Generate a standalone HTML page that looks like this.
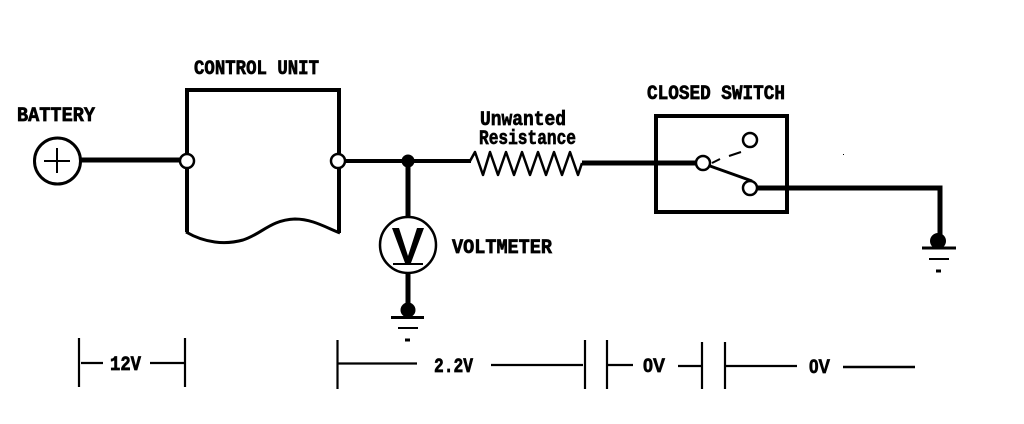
<!DOCTYPE html>
<html>
<head>
<meta charset="utf-8">
<style>
html,body{margin:0;padding:0;background:#fff;width:1024px;height:424px;overflow:hidden}
svg{display:block}
text{font-family:"Liberation Mono",monospace;font-weight:bold;fill:#000;stroke:#000;stroke-width:.7}
text.s{font-family:"Liberation Sans",sans-serif}
</style>
</head>
<body>
<svg width="1024" height="424" viewBox="0 0 1024 424" xmlns="http://www.w3.org/2000/svg">
<g fill="none" stroke="#000" stroke-width="4" stroke-linecap="butt">
  <!-- battery -->
  <circle cx="57.500" cy="161" r="23" stroke-width="3" fill="#fff"/>
  <path d="M44 161H70M57 148V173" stroke-width="2"/>
  <path d="M80 160H181" stroke-width="5"/>
  <!-- control unit -->
  <path d="M187 232V90H339V233" stroke-width="4"/>
  <path d="M186 232C205 243 225 245 243 240C262 234 270 220 295 219C312 219 325 227 340 233" stroke-width="3"/>
  <circle cx="187" cy="161" r="7" fill="#fff" stroke-width="2.500"/>
  <circle cx="338" cy="161" r="7" fill="#fff" stroke-width="2.500"/>
  <!-- wire -->
  <path d="M345 161H471"/>
  <path d="M408 161V217" stroke-width="5"/>
  <circle cx="408" cy="161" r="6.500" fill="#000" stroke="none"/>
  <!-- voltmeter -->
  <circle cx="408" cy="245" r="28" fill="#fff" stroke-width="2.500"/>
  <path d="M392 228H399L408 256L417 228H424L411 263H405Z" fill="#000" stroke="none"/>
  <path d="M393 264H423" stroke-width="2"/>
  <path d="M408 273V305" stroke-width="5"/>
  <circle cx="408" cy="310" r="7.500" fill="#000" stroke="none"/>
  <path d="M391 317.500H424" stroke-width="3"/>
  <path d="M398 328H418" stroke-width="2"/>
  <path d="M405 340H410" stroke-width="3"/>
  <!-- resistor -->
  <path d="M470 161L475 152L483 175L490 152L498 175L506 152L514 175L522 152L530 175L538 152L546 175L554 152L562 175L570 152L578 175L582 163" stroke-width="2.500" stroke-linejoin="round"/>
  <path d="M582 163H697" stroke-width="5"/>
  <!-- switch -->
  <rect x="656" y="116" width="131" height="96" stroke-width="4"/>
  <circle cx="703" cy="163" r="7" fill="#fff" stroke-width="2.500"/>
  <circle cx="750" cy="140" r="7" fill="#fff" stroke-width="2.500"/>
  <path d="M710 166L752 181" stroke-width="3"/>
  <circle cx="750" cy="188" r="7" fill="#fff" stroke-width="2.500"/>
  <path d="M712 163L720 159M729 156L741 152" stroke-width="2"/>
  <path d="M757 188H940V240" stroke-width="5"/>
  <circle cx="938" cy="241" r="8" fill="#000" stroke="none"/>
  <path d="M922 248H956" stroke-width="3"/>
  <path d="M929 259H949" stroke-width="2"/>
  <path d="M936 271H941" stroke-width="3"/>
  <!-- dimension lines -->
  <g stroke-width="2.200">
    <path d="M79 338V387M81 363H103M150 363H186M185 338V387"/>
    <path d="M337.500 340V389M338 363.500H417M491 365H583M585 340V389"/>
    <path d="M607 340V389M608 365H633M678 366H702M702 342V389"/>
    <path d="M725 342V389M726 366H797"/>
    <path d="M843 367H915" stroke-width="2.500"/>
  </g>
</g>
<rect x="843" y="154" width="1" height="1" fill="#000"/>
<text x="194" y="74" font-size="20" textLength="125" lengthAdjust="spacingAndGlyphs">CONTROL UNIT</text>
<text x="17" y="121" font-size="20" textLength="78" lengthAdjust="spacingAndGlyphs">BATTERY</text>
<text x="480" y="125" font-size="20" textLength="86" lengthAdjust="spacingAndGlyphs">Unwanted</text>
<text x="479" y="144" font-size="20" textLength="97" lengthAdjust="spacingAndGlyphs">Resistance</text>
<text x="452" y="253" font-size="20" textLength="100" lengthAdjust="spacingAndGlyphs">VOLTMETER</text>
<text x="647" y="99" font-size="20" textLength="138" lengthAdjust="spacingAndGlyphs">CLOSED SWITCH</text>
<text x="110" y="370" font-size="20" textLength="31" lengthAdjust="spacingAndGlyphs">12V</text>
<text x="434" y="372" font-size="20" textLength="39" lengthAdjust="spacingAndGlyphs">2.2V</text>
<text class="s" x="643" y="372" font-size="19" textLength="22" lengthAdjust="spacingAndGlyphs">0V</text>
<text class="s" x="809" y="373" font-size="19" textLength="21" lengthAdjust="spacingAndGlyphs">0V</text>
</svg>
</body>
</html>
